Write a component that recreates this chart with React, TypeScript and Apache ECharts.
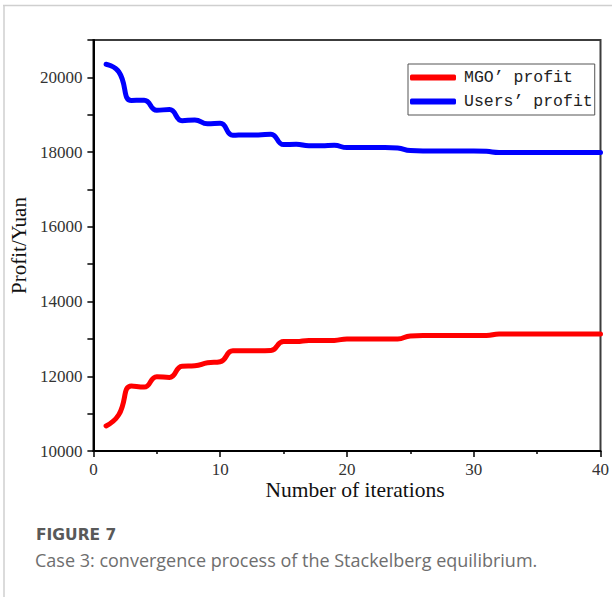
import React, { useEffect, useRef } from "react";
import * as echarts from "echarts";

// Iteration index of the Stackelberg game
const iterations: number[] = Array.from({ length: 40 }, (_, i) => i + 1);

// Profit of the MGO per iteration (Yuan)
const mgoProfit: number[] = [
  10670, 10970, 11740, 11710, 11990, 11970, 12270, 12280, 12360, 12390,
  12680, 12680, 12680, 12690, 12930, 12930, 12960, 12960, 12960, 13000,
  13000, 13000, 13000, 13000, 13080, 13090, 13090, 13090, 13090, 13090,
  13090, 13130, 13130, 13130, 13130, 13130, 13130, 13130, 13130, 13130,
];

// Profit of the users per iteration (Yuan)
const usersProfit: number[] = [
  20350, 20150, 19380, 19390, 19120, 19140, 18840, 18860, 18760, 18770,
  18450, 18460, 18460, 18480, 18200, 18210, 18170, 18170, 18180, 18120,
  18120, 18120, 18120, 18110, 18040, 18030, 18030, 18030, 18030, 18030,
  18020, 17990, 17990, 17990, 17990, 17990, 17990, 17990, 17990, 17990,
];

const seriesNames: string[] = ["MGO\u2019 profit", "Users\u2019 profit"];
const seriesColors: string[] = ["#ff0000", "#0000ff"];

const yTickLabels: number[] = [10000, 12000, 14000, 16000, 18000, 20000];

const captionTitle = "FIGURE 7";
const captionText = "Case 3: convergence process of the Stackelberg equilibrium.";

const SERIF = "Liberation Serif";

export default function App() {
  const ref = useRef<HTMLDivElement>(null);

  useEffect(() => {
    if (!ref.current) return;
    const chart = echarts.init(ref.current, undefined, { renderer: "svg" });

    const toPairs = (vals: number[]) => vals.map((v, i) => [iterations[i], v]);

    chart.setOption({
      animation: false,
      backgroundColor: "#ffffff",
      textStyle: { fontFamily: SERIF },
      grid: {
        left: 91,
        top: 40,
        right: 11,
        bottom: 146,
        show: true,
        borderColor: "#3c3c3c",
        borderWidth: 2,
        containLabel: false,
      },
      legend: {
        orient: "vertical",
        left: 408,
        top: 64,
        width: 187,
        backgroundColor: "#ffffff",
        borderColor: "#555555",
        borderWidth: 1,
        padding: [5, 2, 5, 2],
        itemGap: 7,
        itemWidth: 46,
        itemHeight: 6,
        icon: "roundRect",
        textStyle: {
          fontFamily: "Liberation Mono",
          fontSize: 16.5,
          color: "#222222",
          padding: [0, 0, 0, 3],
        },
        data: seriesNames,
      },
      xAxis: {
        type: "value",
        min: 0,
        max: 40,
        interval: 10,
        axisLine: { show: true, lineStyle: { color: "#000", width: 2 } },
        axisTick: { show: true, length: 6, lineStyle: { color: "#000", width: 1.5 } },
        minorTick: { show: true, splitNumber: 2, length: 3, lineStyle: { color: "#000", width: 1.5 } },
        splitLine: { show: false },
        axisLabel: {
          margin: 10,
          fontFamily: SERIF,
          fontSize: 17,
          color: "#333",
        },
      },
      yAxis: {
        type: "value",
        min: 10000,
        max: 21000,
        interval: 1000,
        name: "Profit/Yuan",
        nameLocation: "middle",
        nameGap: 53,
        nameTextStyle: { fontFamily: SERIF, fontSize: 21, color: "#111" },
        axisLine: { show: true, lineStyle: { color: "#000", width: 2 } },
        axisTick: {
          show: true,
          length: 6,
          lineStyle: { color: "#000", width: 1.5 },
        },
        splitLine: { show: false },
        axisLabel: {
          margin: 11,
          fontFamily: SERIF,
          fontSize: 17,
          color: "#333",
          formatter: (v: number) => (yTickLabels.includes(v) ? String(v) : ""),
        },
      },
      series: [
        {
          name: seriesNames[0],
          type: "line",
          data: toPairs(mgoProfit),
          smooth: 0.5,
          showSymbol: false,
          symbol: "none",
          lineStyle: { color: seriesColors[0], width: 5, cap: "round", join: "round" },
          itemStyle: { color: seriesColors[0] },
        },
        {
          name: seriesNames[1],
          type: "line",
          data: toPairs(usersProfit),
          smooth: 0.5,
          showSymbol: false,
          symbol: "none",
          lineStyle: { color: seriesColors[1], width: 5, cap: "round", join: "round" },
          itemStyle: { color: seriesColors[1] },
        },
      ],
      graphic: [
        {
          type: "line",
          shape: { x1: 3, y1: 5.5, x2: 612, y2: 5.5 },
          style: { stroke: "#cfcfcf", lineWidth: 1.5 },
        },
        {
          type: "line",
          shape: { x1: 4, y1: 5, x2: 4, y2: 597 },
          style: { stroke: "#cfcfcf", lineWidth: 1.5 },
        },
        {
          type: "text",
          x: 355,
          y: 490,
          style: {
            text: "Number of iterations",
            fontFamily: SERIF,
            fontSize: 21.5,
            fill: "#111",
            align: "center",
            verticalAlign: "middle",
          },
        },
        {
          type: "text",
          x: 36,
          y: 535,
          style: {
            text: captionTitle,
            fontFamily: "DejaVu Sans",
            fontWeight: "bold",
            fontSize: 15.5,
            fill: "#595959",
            verticalAlign: "middle",
          },
        },
        {
          type: "text",
          x: 35,
          y: 560,
          style: {
            text: captionText,
            fontFamily: "Open Sans",
            fontWeight: 400,
            fontSize: 18,
            fill: "#6e6e6e",
            verticalAlign: "middle",
          },
        },
      ],
    });

    return () => chart.dispose();
  }, []);

  return (
    <div
      ref={ref}
      style={{ position: "fixed", left: 0, top: 0, width: 612, height: 597 }}
    />
  );
}
